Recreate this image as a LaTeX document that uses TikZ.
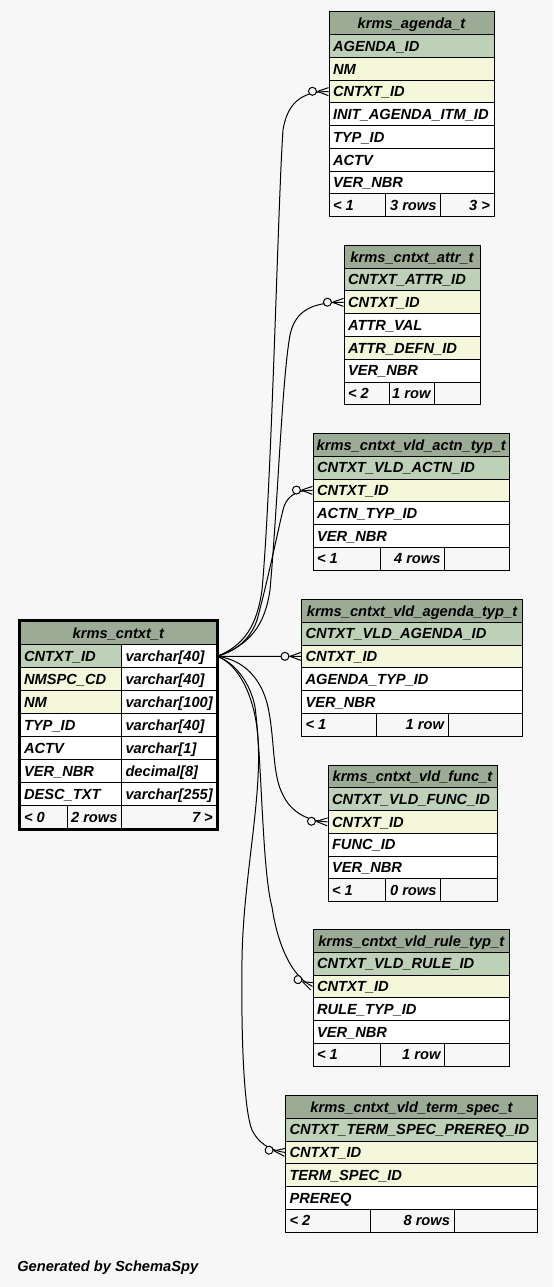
\documentclass[tikz,border=0pt]{standalone}
\usepackage{fontspec}
\setmainfont{Liberation Sans}
\usetikzlibrary{decorations.markings}
\definecolor{bgc}{HTML}{F7F7F7}
\definecolor{hdr}{HTML}{9BAB96}
\definecolor{pkc}{HTML}{BED1B8}
\definecolor{fkc}{HTML}{F4F7DA}
\newcommand\rh{22.75}
\newcommand\cell[7]{%
  \pgfmathsetmacro\cellW{(#4)*0.75}%
  \pgfmathsetmacro\cellT{((#4)-8)*0.75}%
  \pgfmathsetmacro\cellH{(\rh)*0.75}%
  \node[cellbox, fill=#5, minimum width=\cellW pt, minimum height=\cellH pt] (#1) at (#2,{#3}) {\makebox[\cellT pt][#6]{#7}};}
\newcommand\tbl[6]{%
  \cell{#1-t}{#2}{#3}{#4}{hdr}{c}{#5}%
  \foreach \rowc/\rowt [count=\ri] in {#6} {%
    \cell{#1-r\ri}{#2}{#3+\ri*\rh}{#4}{\rowc}{l}{\rowt}%
  }}
\newcommand\tfoot[9]{%
  \cell{#1-f1}{#2}{#3}{(#5)-(#2)}{bgc}{l}{#7}%
  \cell{#1-f2}{#5}{#3}{(#6)-(#5)}{bgc}{r}{#8}%
  \cell{#1-f3}{#6}{#3}{(#4)-(#6)}{bgc}{r}{#9}}
\tikzset{
  every node/.style={font=\fontsize{11}{13}\selectfont\bfseries\itshape, inner sep=0pt},
  cellbox/.style={draw=black, line width=0.75pt, anchor=north west, inner xsep=3pt, inner ysep=0pt, text height=7.9pt, text depth=0pt},
  fkline/.style={draw, line width=0.75pt, postaction={decorate},
    decoration={markings, mark=at position -0.05pt with {
      \draw[line width=0.75pt] (-11,0) -- (0,4) (-11,0) -- (0,-4);
      \draw[line width=0.75pt, fill=bgc] (-16,0) circle[radius=3pt];}}},
}
\begin{document}
\begin{tikzpicture}[x=0.75pt, y=-0.75pt]
\path[use as bounding box, fill=bgc] (0,0) rectangle (553,1287);

% krms_agenda_t
\tbl{A}{328.5}{11.5}{165}{krms\_agenda\_t}{pkc/AGENDA\_ID, fkc/NM, fkc/CNTXT\_ID, white/INIT\_AGENDA\_ITM\_ID, white/TYP\_ID, white/ACTV, white/VER\_NBR}
\tfoot{A}{328.5}{11.5+8*22.75}{493.5}{384.5}{440}{< 1}{3 rows}{3 >}

% krms_cntxt_attr_t
\tbl{B}{343.5}{245}{136}{krms\_cntxt\_attr\_t}{pkc/CNTXT\_ATTR\_ID, fkc/CNTXT\_ID, white/ATTR\_VAL, fkc/ATTR\_DEFN\_ID, white/VER\_NBR}
\tfoot{B}{343.5}{245+6*22.75}{479.5}{388.5}{434}{< 2}{1 row}{}

% krms_cntxt_vld_actn_typ_t
\tbl{C}{312.5}{433}{196.5}{krms\_cntxt\_vld\_actn\_typ\_t}{pkc/CNTXT\_VLD\_ACTN\_ID, fkc/CNTXT\_ID, white/ACTN\_TYP\_ID, white/VER\_NBR}
\tfoot{C}{312.5}{433+5*22.75}{509}{379.5}{444}{< 1}{4 rows}{}

% krms_cntxt_vld_agenda_typ_t
\tbl{D}{301}{599}{221}{krms\_cntxt\_vld\_agenda\_typ\_t}{pkc/CNTXT\_VLD\_AGENDA\_ID, fkc/CNTXT\_ID, white/AGENDA\_TYP\_ID, white/VER\_NBR}
\tfoot{D}{301}{599+5*22.75}{522}{375.5}{447.5}{< 1}{1 row}{}

% krms_cntxt_vld_func_t
\tbl{E}{327.5}{764.5}{169}{krms\_cntxt\_vld\_func\_t}{pkc/CNTXT\_VLD\_FUNC\_ID, fkc/CNTXT\_ID, white/FUNC\_ID, white/VER\_NBR}
\tfoot{E}{327.5}{764.5+5*22.75}{496.5}{384.5}{440}{< 1}{0 rows}{}

% krms_cntxt_vld_rule_typ_t
\tbl{F}{312.5}{929}{196.5}{krms\_cntxt\_vld\_rule\_typ\_t}{pkc/CNTXT\_VLD\_RULE\_ID, fkc/CNTXT\_ID, white/RULE\_TYP\_ID, white/VER\_NBR}
\tfoot{F}{312.5}{929+5*22.75}{509}{379.5}{444}{< 1}{1 row}{}

% krms_cntxt_vld_term_spec_t
\tbl{G}{285}{1095}{252}{krms\_cntxt\_vld\_term\_spec\_t}{pkc/CNTXT\_TERM\_SPEC\_PREREQ\_ID, fkc/CNTXT\_ID, fkc/TERM\_SPEC\_ID, white/PREREQ}
\tfoot{G}{285}{1095+5*22.75}{537}{369.5}{453.5}{< 2}{8 rows}{}

% main table krms_cntxt_t
\renewcommand\rh{24}
\cell{M-t}{19.5}{620.3}{196.8}{hdr}{c}{krms\_cntxt\_t}
\renewcommand\rh{23}
\foreach \rowc/\rowa/\rowb [count=\ri] in {pkc/CNTXT\_ID/varchar[40], fkc/NMSPC\_CD/varchar[40], fkc/NM/varchar[100], white/TYP\_ID/varchar[40], white/ACTV/varchar[1], white/VER\_NBR/decimal[8], white/DESC\_TXT/varchar[255]} {
  \cell{M-n\ri}{19.5}{621.3+\ri*23}{101.5}{\rowc}{l}{\rowa}
  \cell{M-v\ri}{121}{621.3+\ri*23}{95.3}{white}{l}{\rowb}
}
\tfoot{M}{19.5}{805.3}{216.3}{67}{121}{< 0}{2 rows}{7 >}
\draw[line width=1.9pt] (M-t.north west) rectangle (M-f3.south east);

% connectors
\draw[fkline] (M-v1.east) .. controls (245,645) and (257,625) .. (262,590)
  .. controls (272,480) and (278,200) .. (283,130)
  .. controls (287,105) and (300,91) .. (A-r3.west);
\draw[fkline] (M-v1.east) .. controls (250,645) and (265,625) .. (270,590)
  .. controls (278,500) and (282,380) .. (290,335)
  .. controls (295,312) and (310,302) .. (B-r2.west);
\draw[fkline] (M-v1.east) .. controls (240,650) and (252,635) .. (257,620)
  .. controls (268,580) and (278,530) .. (283,510)
  .. controls (286,497) and (295,490) .. (C-r2.west);
\draw[fkline] (M-v1.east) -- (D-r2.west);
\draw[fkline] (M-v1.east) .. controls (245,660) and (262,680) .. (268,707)
  .. controls (275,740) and (272,775) .. (283,795)
  .. controls (290,810) and (305,821) .. (E-r2.west);
\draw[fkline] (M-v1.east) .. controls (240,665) and (252,690) .. (255,707)
  .. controls (262,760) and (262,870) .. (272,907)
  .. controls (276,935) and (288,975) .. (F-r2.west);
\draw[fkline] (M-v1.east) .. controls (240,665) and (256,700) .. (258,740)
  .. controls (262,800) and (243,880) .. (242,960)
  .. controls (241,1040) and (244,1110) .. (252,1130)
  .. controls (258,1142) and (268,1150) .. (G-r2.west);

\node[anchor=base west] (gen) at (17,1271) {Generated by SchemaSpy};
\end{tikzpicture}
\end{document}
